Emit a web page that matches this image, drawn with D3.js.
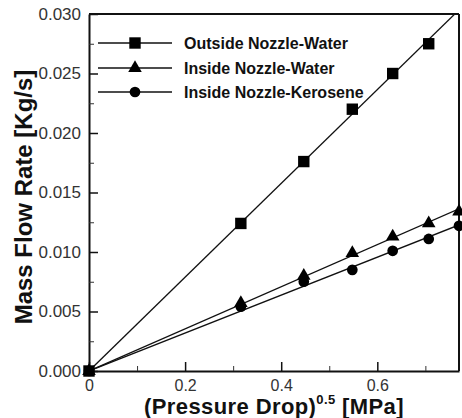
<!DOCTYPE html>
<html><head><meta charset="utf-8">
<script src="https://cdn.jsdelivr.net/npm/d3@7"></script>
<style>
html,body{margin:0;padding:0;background:#fff;}
svg{display:block;font-family:"Liberation Sans",Arial,sans-serif;}
</style></head>
<body>
<svg id="c" width="462" height="418"></svg>
<script>
// ---- data ----
const seriesNames = ["Outside Nozzle-Water", "Inside Nozzle-Water", "Inside Nozzle-Kerosene"];
const outsideX = [0, 0.316, 0.447, 0.548, 0.632, 0.707];
const outsideY = [0, 0.0124, 0.0176, 0.0220, 0.0250, 0.0275];
const insideWaterX = [0, 0.316, 0.447, 0.548, 0.632, 0.707, 0.77];
const insideWaterY = [0, 0.0057, 0.0080, 0.0099, 0.0113, 0.0124, 0.0134];
const insideKeroX = [0, 0.316, 0.447, 0.548, 0.632, 0.707, 0.77];
const insideKeroY = [0, 0.0054, 0.0075, 0.0085, 0.0101, 0.0111, 0.0122];
const xTicks = [0, 0.2, 0.4, 0.6];
const xMinor = [0.1, 0.3, 0.5, 0.7];
const yTicks = [0, 0.005, 0.010, 0.015, 0.020, 0.025, 0.030];
const yMinor = [0.0025, 0.0075, 0.0125, 0.0175, 0.0225, 0.0275];

const svg = d3.select("#c");
const L = 89, R = 459, T = 14, B = 371;
const x = d3.scaleLinear().domain([0, 0.77]).range([L, R]);
const y = d3.scaleLinear().domain([0, 0.030]).range([B, T]);

svg.append("defs").append("clipPath").attr("id","pa")
  .append("rect").attr("x",L).attr("y",T).attr("width",R-L).attr("height",B-T);

const series = [
  {name: seriesNames[0], xs: outsideX, ys: outsideY, sym: d3.symbolSquare, size: 130},
  {name: seriesNames[1], xs: insideWaterX, ys: insideWaterY, sym: d3.symbolTriangle, size: 80},
  {name: seriesNames[2], xs: insideKeroX, ys: insideKeroY, sym: d3.symbolCircle, size: 90}
];

// fit lines through origin (least squares)
series.forEach(s => {
  let sxy = 0, sxx = 0;
  s.xs.forEach((v,i) => { sxy += v*s.ys[i]; sxx += v*v; });
  s.slope = sxy/sxx;
});

const gLines = svg.append("g").attr("clip-path","url(#pa)");
series.forEach(s => {
  gLines.append("line")
    .attr("x1", x(0)).attr("y1", y(0))
    .attr("x2", x(0.77)).attr("y2", y(s.slope*0.77))
    .attr("stroke","#111").attr("stroke-width",1.3);
});

// axes
const ax = svg.append("g").attr("transform",`translate(0,${B})`)
  .call(d3.axisBottom(x).tickValues(xTicks).tickSizeInner(-9).tickSizeOuter(0).tickPadding(8)
    .tickFormat(d => d === 0 ? "0" : d3.format(".1f")(d)));
ax.select(".domain").attr("stroke","#111").attr("stroke-width",2);
ax.selectAll(".tick line").attr("stroke","#111").attr("stroke-width",1.5);
ax.selectAll("text").attr("font-size",16).attr("fill","#333").attr("dy","0.72em");
svg.append("g").attr("transform",`translate(0,${B})`)
  .call(d3.axisBottom(x).tickValues(xMinor).tickSize(-5).tickFormat(""))
  .call(g => g.select(".domain").remove())
  .selectAll("line").attr("stroke","#333").attr("stroke-width",1);

const ay = svg.append("g").attr("transform",`translate(${L},0)`)
  .call(d3.axisLeft(y).tickValues(yTicks).tickSizeInner(-9).tickSizeOuter(0).tickPadding(8)
    .tickFormat(d3.format(".3f")));
ay.select(".domain").attr("stroke","#111").attr("stroke-width",2);
ay.selectAll(".tick line").attr("stroke","#111").attr("stroke-width",1.5);
ay.selectAll("text").attr("font-size",17).attr("fill","#333");
svg.append("g").attr("transform",`translate(${L},0)`)
  .call(d3.axisLeft(y).tickValues(yMinor).tickSize(-5).tickFormat(""))
  .call(g => g.select(".domain").remove())
  .selectAll("line").attr("stroke","#333").attr("stroke-width",1);

// frame top/right
svg.append("line").attr("x1",L).attr("x2",R).attr("y1",T).attr("y2",T).attr("stroke","#111").attr("stroke-width",1.8);
svg.append("line").attr("x1",R).attr("x2",R).attr("y1",T).attr("y2",B).attr("stroke","#111").attr("stroke-width",2);

// markers
series.slice().reverse().forEach(s => {
  svg.append("g").selectAll("path").data(s.xs.map((v,i)=>[v,s.ys[i]])).join("path")
    .attr("d", d3.symbol().type(s.sym).size(s.size))
    .attr("transform", d => `translate(${x(d[0])},${y(d[1])})`)
    .attr("fill","#000");
});

// legend
const legY = [43, 68, 92];
series.forEach((s,i) => {
  const g = svg.append("g");
  g.append("line").attr("x1",98).attr("x2",172).attr("y1",legY[i]).attr("y2",legY[i])
    .attr("stroke","#111").attr("stroke-width",1.3);
  g.append("path").attr("d", d3.symbol().type(s.sym).size(s.size))
    .attr("transform",`translate(135,${legY[i]})`).attr("fill","#000");
  g.append("text").attr("x",184).attr("y",legY[i]).attr("dy","0.36em")
    .attr("font-size",16).attr("font-weight","bold").attr("fill","#111").text(s.name);
});

// axis titles
const xt = svg.append("text").attr("x",274).attr("y",414).attr("text-anchor","middle")
  .attr("font-size",22).attr("letter-spacing",0.4).attr("font-weight","bold").attr("fill","#111");
xt.append("tspan").text("(Pressure Drop)");
xt.append("tspan").attr("font-size",13).attr("dy",-10).text("0.5");
xt.append("tspan").attr("dy",10).text(" [MPa]");

svg.append("text").attr("transform","translate(32,197) rotate(-90)")
  .attr("text-anchor","middle").attr("font-size",24).attr("font-weight","bold").attr("fill","#111")
  .text("Mass Flow Rate [Kg/s]");
</script>
</body></html>
